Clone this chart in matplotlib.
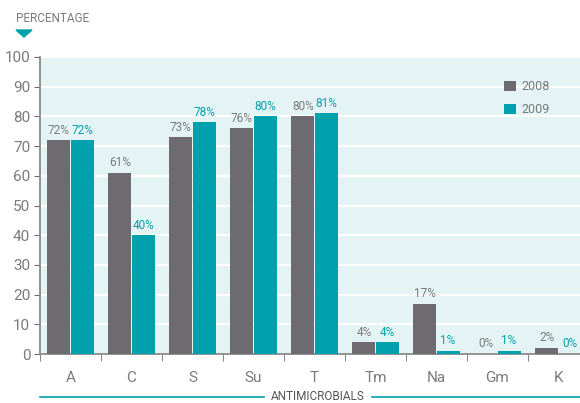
import matplotlib.pyplot as plt
import numpy as np

plt.rcParams['font.family'] = ['Roboto', 'DejaVu Sans']

drugs = ['A', 'C', 'S', 'Su', 'T', 'Tm', 'Na', 'Gm', 'K']
pct_2008 = [72, 61, 73, 76, 80, 4, 17, 0, 2]
pct_2009 = [72, 40, 78, 80, 81, 4, 1, 1, 0]

grey = '#6e6b70'
teal = '#00a1ad'
txt = '#7a7a7a'

fig = plt.figure(figsize=(5.80, 4.03), dpi=100)
ax = fig.add_axes([40 / 580, 49 / 403, 549 / 580, 297 / 403])
ax.set_facecolor('#e4f4f5')

x = np.arange(len(drugs))
w = 0.38
ax.bar(x - w / 2 - 0.005, pct_2008, w, color=grey, label='2008', zorder=3)
ax.bar(x + w / 2 + 0.005, pct_2009, w, color=teal, label='2009', zorder=3)

for xi, v in zip(x, pct_2008):
    ax.text(xi - w / 2, v + 1.2, f'{v}%', ha='center', va='bottom',
            color=txt, fontsize=8.5, zorder=4)
for xi, v in zip(x, pct_2009):
    ax.text(xi + w / 2, v + 1.2, f'{v}%', ha='center', va='bottom',
            color=teal, fontsize=8.5, zorder=4)

ax.set_xlim(-0.5, len(drugs) - 0.5)
ax.set_ylim(0, 100)
ax.set_yticks(range(0, 101, 10))
ax.yaxis.grid(True, color='white', linewidth=1.5, zorder=1)
ax.set_xticks(x)
ax.set_xticklabels(drugs)
ax.set_xticks(np.arange(len(drugs)) - 0.5, minor=True)
ax.tick_params(axis='x', which='major', length=0, pad=12, labelsize=11, labelcolor=txt)
ax.tick_params(axis='x', which='minor', length=5, color=grey, direction='out')
ax.tick_params(axis='y', length=4, color=grey, labelsize=11, labelcolor=txt, pad=3)

for s in ['top', 'right']:
    ax.spines[s].set_visible(False)
ax.spines['left'].set_color('#8a8a8a')
ax.spines['bottom'].set_color('#8a8a8a')
ax.spines['left'].set_linewidth(1.3)
ax.spines['bottom'].set_linewidth(1.3)

leg = ax.legend(loc='upper right', bbox_to_anchor=(0.95, 0.96), frameon=False,
                fontsize=9, handlelength=0.9, handleheight=0.9, labelspacing=0.8,
                handletextpad=0.5)
for t in leg.get_texts():
    t.set_color(txt)

# axis titles
fig.text(16 / 580, 1 - 18 / 403, 'PERCENTAGE', color=txt, fontsize=8.5, va='center', ha='left')
fig.patches.append(plt.Polygon([[16 / 580, 1 - 30 / 403], [32 / 580, 1 - 30 / 403],
                                [24 / 580, 1 - 37 / 403]], closed=True,
                               color=teal, transform=fig.transFigure))
fig.text(318 / 580, 1 - 397 / 403, 'ANTIMICROBIALS', color='#555555', fontsize=8.5,
         va='center', ha='center')
fig.add_artist(plt.Line2D([40 / 580, 264 / 580], [1 - 397 / 403] * 2, color=teal, lw=1.2))
fig.add_artist(plt.Line2D([372 / 580, 1], [1 - 397 / 403] * 2, color=teal, lw=1.2))

fig.savefig('out.png', dpi=100)
